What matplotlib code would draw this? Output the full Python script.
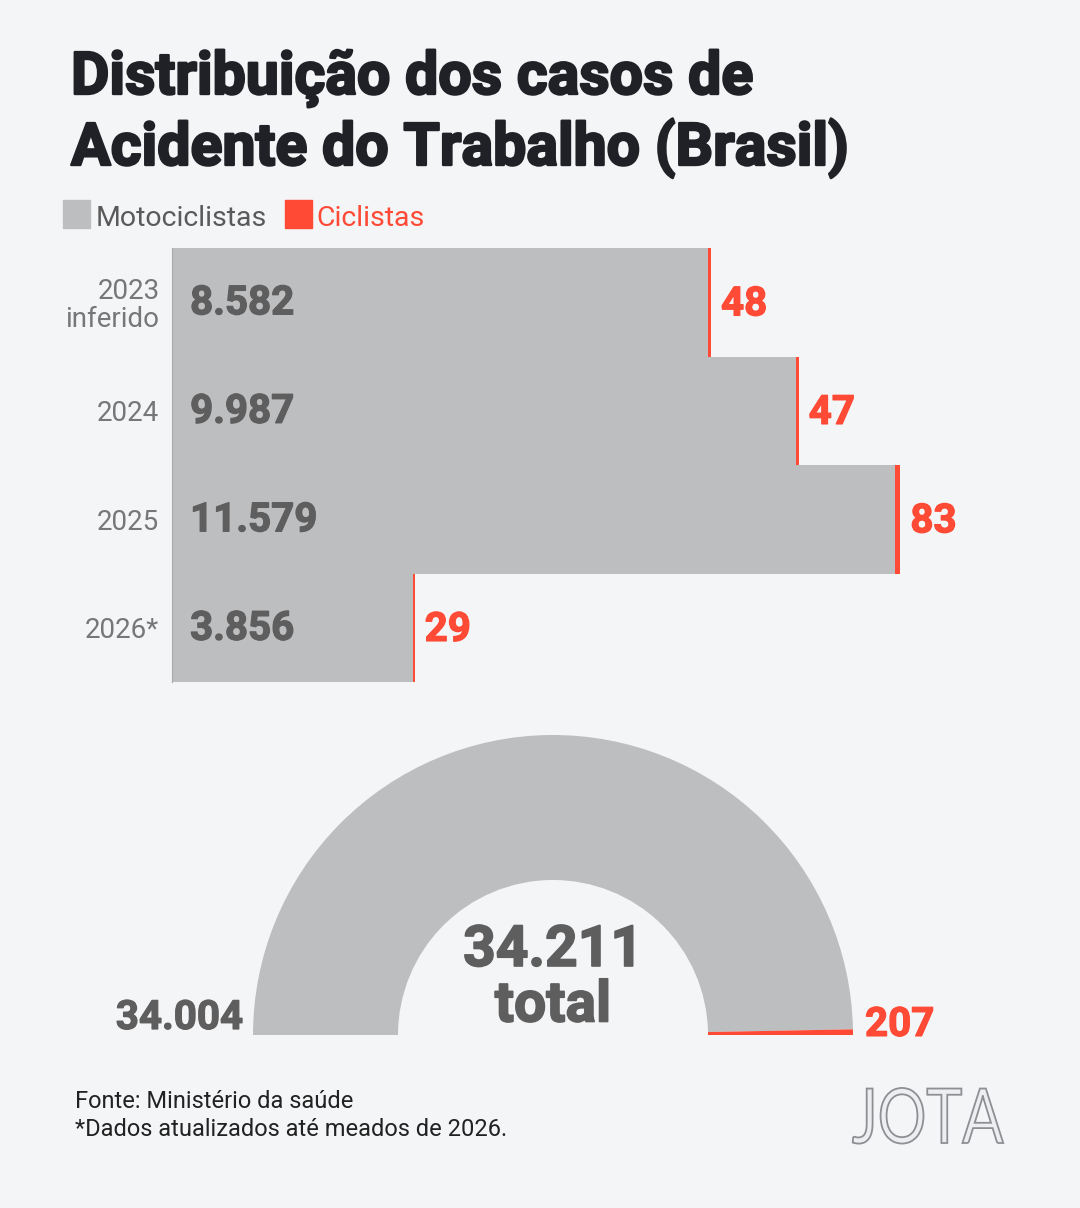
import numpy as np
import matplotlib
matplotlib.use("Agg")
import matplotlib.pyplot as plt
import matplotlib.patheffects as pe
from matplotlib.textpath import TextPath
from matplotlib.patches import PathPatch
from matplotlib.font_manager import FontProperties
from matplotlib.transforms import Affine2D

plt.rcParams['font.family'] = ['Roboto', 'DejaVu Sans']

# data
anos = ['2023\ninferido', '2024', '2025', '2026*']
motociclistas = [8582, 9987, 11579, 3856]
ciclistas = [48, 47, 83, 29]
total_moto = 34004
total_cicl = 207
total = 34211

W, H = 1080, 1208
bg = '#f4f5f7'
cinza = '#bdbec0'
vermelho = '#ff4a35'
txt_cinza = '#5e5e5e'
titulo_cor = '#1f2127'


def fx(px):
    return px / W


def fy(py):
    return 1 - py / H


def fmt(v):
    return f'{v:,}'.replace(',', '.')


def grosso(cor, lw=0.9):
    # Roboto Black isn't available, fake the heavier weight with a stroke
    return [pe.withStroke(linewidth=lw, foreground=cor)]


fig = plt.figure(figsize=(W / 100, H / 100), dpi=100, facecolor=bg)

# title
fig.text(fx(71), fy(94), 'Distribuição dos casos de', fontsize=42.5, fontweight='bold',
         color=titulo_cor, va='baseline', path_effects=grosso(titulo_cor, 1.7))
fig.text(fx(71), fy(165), 'Acidente do Trabalho (Brasil)', fontsize=42.5, fontweight='bold',
         color=titulo_cor, va='baseline', path_effects=grosso(titulo_cor, 1.7))

# legend + logo layer in pixel coords
leg = fig.add_axes([0, 0, 1, 1])
leg.set_xlim(0, W)
leg.set_ylim(H, 0)
leg.axis('off')
leg.add_patch(plt.Rectangle((63, 200), 27, 28, color=cinza))
leg.text(96, 226, 'Motociclistas', fontsize=20.5, color='#5a5a5a', va='baseline')
leg.add_patch(plt.Rectangle((285, 200), 27, 28, color=vermelho))
leg.text(316, 226, 'Ciclistas', fontsize=20.5, color=vermelho, va='baseline')

tp = TextPath((0, 0), 'JOTA', size=76, prop=FontProperties(family='Lato', weight='normal'))
tr = Affine2D().scale(0.80, -1).translate(852, 1143)
leg.add_patch(PathPatch(tr.transform_path(tp), facecolor='#eceef1', edgecolor='#8e8f93', lw=1.3))

# bars
ax = fig.add_axes([fx(172), fy(682), fx(W - 172), (682 - 248) / H])
ax.set_facecolor('none')
y = np.arange(len(anos))
ax.barh(y, motociclistas, height=1.0, color=cinza, linewidth=0)
ax.barh(y, ciclistas, left=motociclistas, height=1.0, color=vermelho, linewidth=0)
ax.set_xlim(0, (W - 172) / 0.06246)
ax.set_ylim(len(anos) - 0.5, -0.5)
for s in ['top', 'right', 'bottom']:
    ax.spines[s].set_visible(False)
ax.spines['left'].set_color('#a9aaac')
ax.spines['left'].set_linewidth(0.8)
ax.set_xticks([])
ax.set_yticks(y)
ax.set_yticklabels(anos, fontsize=20, color='#77777a', linespacing=1.05)
ax.tick_params(axis='y', length=0, pad=9)
for i in range(len(anos)):
    ax.text(290, i + 0.01, fmt(motociclistas[i]), fontsize=29, fontweight='bold',
            color=txt_cinza, va='center', ha='left', path_effects=grosso(txt_cinza))
    ax.text(motociclistas[i] + ciclistas[i] + 160, i + 0.02, fmt(ciclistas[i]), fontsize=29,
            fontweight='bold', color=vermelho, va='center', ha='left',
            path_effects=grosso(vermelho))

# half donut
cx, cy, r = 553, 1035, 300
pad = 340
dax = fig.add_axes([fx(cx - pad), fy(cy + pad), 2 * pad / W, 2 * pad / H])
dax.pie([total_moto, total_cicl, total], colors=[cinza, vermelho, 'none'],
        startangle=180, counterclock=False, radius=1.0,
        wedgeprops=dict(width=(300 - 155) / 300, linewidth=0))
dax.set_aspect('equal')
dax.set_xlim(-pad / r, pad / r)
dax.set_ylim(-pad / r, pad / r)
dax.axis('off')
dax.text(-1.033, 0.02, fmt(total_moto), fontsize=29, fontweight='bold', color=txt_cinza,
         ha='right', va='baseline', path_effects=grosso(txt_cinza))
dax.text(1.04, -0.003, fmt(total_cicl), fontsize=29, fontweight='bold', color=vermelho,
         ha='left', va='baseline', path_effects=grosso(vermelho))
dax.text(0, 0.23, fmt(total), fontsize=41, fontweight='bold', color=txt_cinza,
         ha='center', va='baseline', path_effects=grosso(txt_cinza, 1.2))
dax.text(0, 0.045, 'total', fontsize=41, fontweight='bold', color=txt_cinza,
         ha='center', va='baseline', path_effects=grosso(txt_cinza, 1.2))

# footer
fig.text(fx(75), fy(1108), 'Fonte: Ministério da saúde', fontsize=17, color='#222222',
         va='baseline')
fig.text(fx(75), fy(1136), '*Dados atualizados até meados de 2026.', fontsize=17,
         color='#222222', va='baseline')

fig.savefig('out.png', dpi=100, facecolor=bg)
